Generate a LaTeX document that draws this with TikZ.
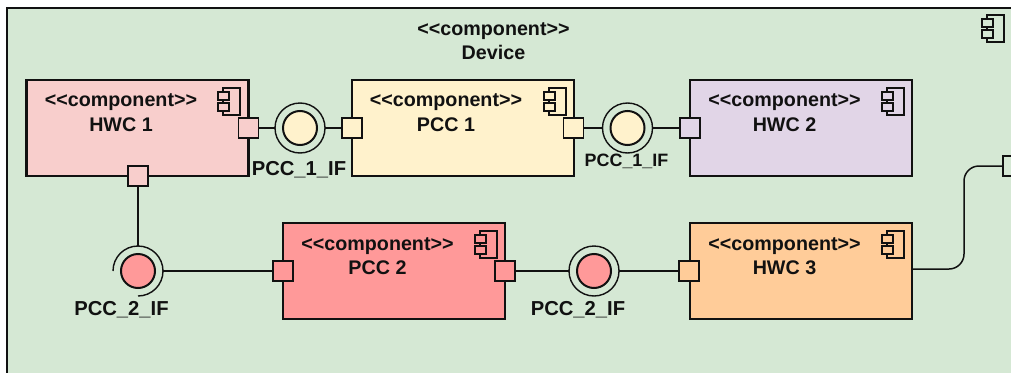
\documentclass[tikz,border=0pt]{standalone}
\usepackage{fontspec}
\setmainfont[Ligatures=NoCommon]{Liberation Sans}
\definecolor{bgG}{HTML}{D5E8D4}
\definecolor{cHa}{HTML}{F8CECC}
\definecolor{cPa}{HTML}{FFF2CC}
\definecolor{cHb}{HTML}{E1D5E7}
\definecolor{cPb}{HTML}{FF9999}
\definecolor{cHc}{HTML}{FFCC99}
\definecolor{ink}{HTML}{111111}
\newcommand{\stereo}{{<}{<}component{>}{>}}
\tikzset{
  compbox/.style={draw=ink,line width=2.4pt,rectangle,inner sep=0pt,outer sep=0pt,minimum width=222pt,minimum height=96pt},
  portbox/.style={draw=ink,line width=1.8pt,rectangle,inner sep=0pt,outer sep=0pt,minimum size=20pt},
  ringout/.style={draw=ink,line width=1.4pt,circle,inner sep=0pt,outer sep=0pt,minimum size=50pt},
  ringhit/.style={circle,inner sep=0pt,outer sep=0pt,minimum size=50pt},
  ringin/.style={draw=ink,line width=2pt,circle,inner sep=0pt,outer sep=0pt,minimum size=34pt},
  wire/.style={draw=ink,line width=1.5pt},
  txt/.style={anchor=base,inner sep=0pt,outer sep=0pt,font=\fontsize{19.7pt}{22pt}\selectfont\bfseries,text=ink},
  iflabel/.style={anchor=base,inner sep=0pt,outer sep=0pt,font=\fontsize{20.2pt}{22pt}\selectfont\bfseries,text=ink},
  iflabelsmall/.style={anchor=base,inner sep=0pt,outer sep=0pt,font=\fontsize{17.9pt}{20pt}\selectfont\bfseries,text=ink},
  pics/cicon/.style={code={
    \draw[draw=ink,line width=1.4pt] (5,0) rectangle (22,27);
    \draw[draw=ink,fill=#1,line width=1.4pt] (0,4) rectangle (11,12);
    \draw[draw=ink,fill=#1,line width=1.4pt] (0,15) rectangle (11,23);
  }},
}
\begin{document}
\begin{tikzpicture}[x=1pt,y=-1pt]
\clip (0,0) rectangle (1011,372);
\fill[white] (0,0) rectangle (1011,372);
\draw[draw=ink,fill=bgG,line width=2.2pt] (7,8) rectangle (1040,400);

% components
\node[compbox,fill=cHa] (hwca) at (137.5,128) {};
\node[compbox,fill=cPa] (pcca) at (463,128) {};
\node[compbox,fill=cHb] (hwcb) at (801,128) {};
\node[compbox,fill=cPb] (pccb) at (394,271) {};
\node[compbox,fill=cHc] (hwcc) at (801,271) {};

% component icons
\pic at (982,15) {cicon=bgG};
\pic at (218,88) {cicon=cHa};
\pic at (544,88) {cicon=cPa};
\pic at (882,88) {cicon=cHb};
\pic at (475,231) {cicon=cPb};
\pic at (882,231) {cicon=cHc};

% titles
\node[txt] (devt) at (493.5,35.5) {\stereo};
\node[txt] (devn) at (493.5,59) {Device};
\node[txt] (hat) at (121,106.5) {\stereo};
\node[txt] (han) at (121,131) {HWC 1};
\node[txt] (pat) at (446,106.5) {\stereo};
\node[txt] (pan) at (446,131) {PCC 1};
\node[txt] (hbt) at (784.5,106.5) {\stereo};
\node[txt] (hbn) at (784.5,131) {HWC 2};
\node[txt] (pbt) at (377.5,250) {\stereo};
\node[txt] (pbn) at (377.5,274) {PCC 2};
\node[txt] (hct) at (784.5,250) {\stereo};
\node[txt] (hcn) at (784.5,274) {HWC 3};

% ports
\node[portbox,fill=cHa] (p1) at (248.5,128) {};
\node[portbox,fill=cHa] (p2) at (138,176) {};
\node[portbox,fill=cPa] (p3) at (352,128) {};
\node[portbox,fill=cPa] (p4) at (573.5,128) {};
\node[portbox,fill=cHb] (p5) at (690,128) {};
\node[portbox,fill=cPb] (p6) at (283,271) {};
\node[portbox,fill=cPb] (p7) at (505,271) {};
\node[portbox,fill=cHc] (p8) at (689,271) {};
\node[portbox,fill=bgG] (p9) at (1013,166) {};

% interfaces
\node[ringout] (ra) at (300,128) {};
\node[ringin,fill=cPa] (ia) at (300,128) {};
\node[ringout] (rb) at (627.5,128) {};
\node[ringin,fill=cPa] (ib) at (627.5,128) {};
\node[ringhit] (rc) at (138,271) {};
\node[ringin,fill=cPb] (ic) at (138,271) {};
\draw[draw=ink,line width=1.4pt] (rc.west) arc[start angle=180,end angle=-90,radius=25pt];
\node[ringout] (rd) at (594,271) {};
\node[ringin,fill=cPb] (id) at (594,271) {};

% interface labels
\node[iflabel] (la) at (299,175) {PCC\_1\_IF};
\node[iflabelsmall] (lb) at (626.5,166) {PCC\_1\_IF};
\node[iflabel] (lc) at (121.5,315) {PCC\_2\_IF};
\node[iflabel] (ld) at (578,315) {PCC\_2\_IF};

% connectors
\draw[wire] (p1) -- (ra);
\draw[wire] (ra) -- (p3);
\draw[wire] (p4) -- (rb);
\draw[wire] (rb) -- (p5);
\draw[wire] (p2) -- (rc.north);
\draw[wire] (rc.east) -- (p6);
\draw[wire] (p7) -- (rd);
\draw[wire] (rd) -- (p8);
\coordinate (bend) at (964,220);
\draw[wire,rounded corners=15pt] ([yshift=2pt]hwcc.east) -| (bend) |- (p9.west);
\end{tikzpicture}
\end{document}
